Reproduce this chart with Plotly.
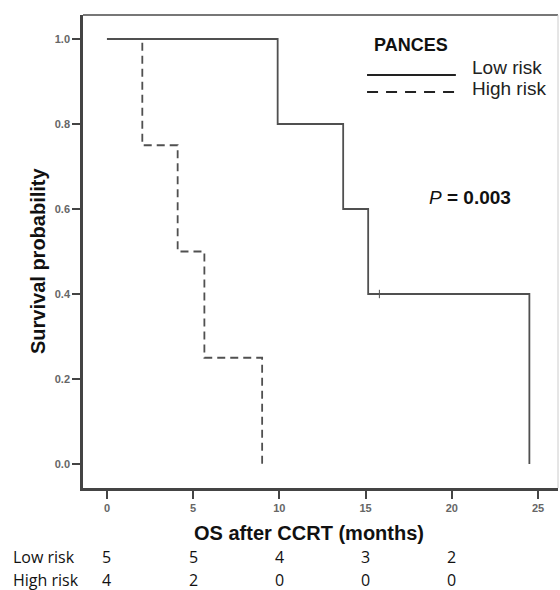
import plotly.graph_objects as go

# Kaplan-Meier steps
low_t = [0, 9.9, 13.7, 15.15, 24.5]
low_s = [1.0, 0.8, 0.6, 0.4, 0.0]
low_cens_t = [15.8]
low_cens_s = [0.4]
high_t = [0, 2.05, 4.1, 5.65, 9.0]
high_s = [1.0, 0.75, 0.5, 0.25, 0.0]

x_ticks = [0, 5, 10, 15, 20, 25]
y_ticks = [0.0, 0.2, 0.4, 0.6, 0.8, 1.0]
risk_times = [0, 5, 10, 15, 20]
risk_low = [5, 5, 4, 3, 2]
risk_high = [4, 2, 0, 0, 0]

LC = "#505050"
fig = go.Figure()
fig.add_trace(go.Scatter(x=low_t, y=low_s, mode="lines", line=dict(color=LC, width=1.8, shape="hv"),
                         showlegend=False, hoverinfo="skip"))
fig.add_trace(go.Scatter(x=high_t, y=high_s, mode="lines",
                         line=dict(color=LC, width=1.8, shape="hv", dash="8px,5px"),
                         showlegend=False, hoverinfo="skip"))
fig.add_trace(go.Scatter(x=low_cens_t, y=low_cens_s, mode="markers",
                         marker=dict(symbol="line-ns", size=6, line=dict(color=LC, width=1)),
                         showlegend=False, hoverinfo="skip"))

tickfont = dict(family="Arial", size=11, color="#666", weight="bold")
fig.update_xaxes(range=[-1.39, 26.16], tickvals=x_ticks, ticks="outside", ticklen=8, tickwidth=2,
                 tickcolor="#444", showline=True, linewidth=2.5, linecolor="#444", showgrid=False,
                 zeroline=False, tickfont=tickfont)
fig.update_yaxes(range=[-0.0565, 1.0565], tickvals=y_ticks, tickformat=".1f", ticks="outside",
                 ticklen=8, tickwidth=2, tickcolor="#444", showline=True, linewidth=2.5,
                 linecolor="#444", showgrid=False, zeroline=False, tickfont=tickfont)

shapes = [
    dict(type="line", xref="paper", yref="paper", x0=0, x1=1, y0=1, y1=1, line=dict(color="#777", width=2)),
    dict(type="line", xref="paper", yref="paper", x0=1, x1=1, y0=0, y1=1, line=dict(color="#ccc", width=1)),
    dict(type="line", xref="paper", yref="paper", x0=0.598, x1=0.785, y0=0.873, y1=0.873,
         line=dict(color="#222", width=2)),
    dict(type="line", xref="paper", yref="paper", x0=0.598, x1=0.785, y0=0.837, y1=0.837,
         line=dict(color="#222", width=2, dash="11px,8px")),
]

ann = [
    dict(text="PANCES", x=0.609, y=0.9366, xanchor="left", yanchor="middle",
         font=dict(family="Arial", size=18, color="#111", weight="bold")),
    dict(text="Low risk", x=0.815, y=0.890, xanchor="left", yanchor="middle",
         font=dict(family="Arial", size=19, color="#222")),
    dict(text="High risk", x=0.815, y=0.8436, xanchor="left", yanchor="middle",
         font=dict(family="Arial", size=19, color="#222")),
    dict(text="<i>P</i><b> = 0.003</b>", x=0.724, y=0.615, xanchor="left", yanchor="middle",
         font=dict(family="Arial", size=19, color="#111")),
    dict(text="<b>OS after CCRT (months)</b>", x=0.476, y=-0.095, xanchor="center", yanchor="middle",
         font=dict(family="Arial", size=20, color="#111")),
    dict(text="<b>Survival probability</b>", x=-0.0947, y=0.48, xanchor="center", yanchor="middle",
         textangle=-90, font=dict(family="Arial", size=20, color="#111")),
    dict(text="Low risk", x=-0.152, y=-0.146, xanchor="left", yanchor="middle",
         font=dict(family="Open Sans", size=16, color="#111")),
    dict(text="High risk", x=-0.152, y=-0.194, xanchor="left", yanchor="middle",
         font=dict(family="Open Sans", size=16, color="#111")),
]
for a in ann:
    a.update(xref="paper", yref="paper", showarrow=False)
for t, lo, hi in zip(risk_times, risk_low, risk_high):
    ann.append(dict(text=str(lo), x=t, xref="x", y=-0.146, yref="paper", showarrow=False,
                    xanchor="center", yanchor="middle", font=dict(family="Open Sans", size=16, color="#111")))
    ann.append(dict(text=str(hi), x=t, xref="x", y=-0.194, yref="paper", showarrow=False,
                    xanchor="center", yanchor="middle", font=dict(family="Open Sans", size=16, color="#111")))

fig.update_layout(width=560, height=590, margin=dict(l=83, r=2, t=15, b=102),
                  plot_bgcolor="white", paper_bgcolor="white", shapes=shapes, annotations=ann)
fig.write_html("out.html", config={"displayModeBar": False},
               post_script="document.body.style.margin='0';")
